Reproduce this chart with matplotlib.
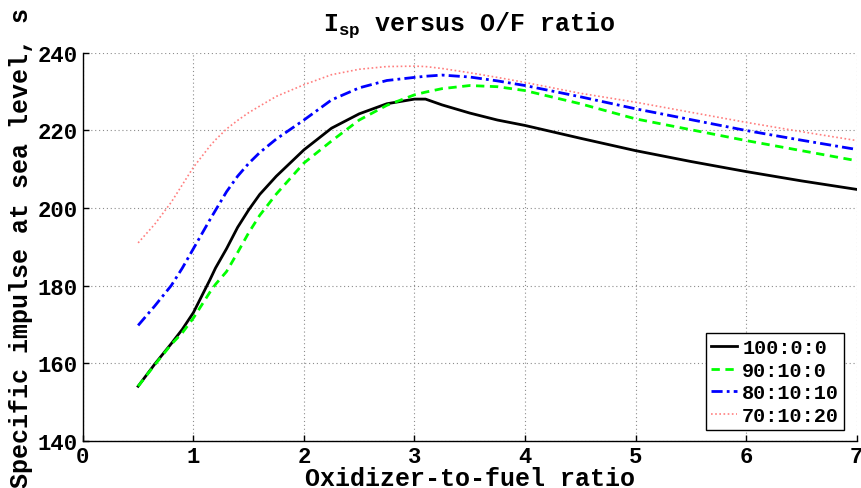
import matplotlib
matplotlib.use("Agg")
import matplotlib.pyplot as plt

# O/F ratio sample points
of_ratio = [0.5, 0.65, 0.8, 0.9, 1.0, 1.15, 1.2, 1.3, 1.4, 1.5, 1.6, 1.75, 2.0, 2.25,
            2.5, 2.75, 3.0, 3.1, 3.25, 3.5, 3.75, 4.0, 4.5, 5.0, 5.5, 6.0, 6.5, 7.0]

isp_100_0_0 = [154, 159.7, 165, 168.7, 173, 181.5, 184.5, 189.5, 195, 199.5, 203.5,
               208.2, 215, 220.6, 224.3, 226.9, 228.1, 228.1, 226.6, 224.5, 222.7,
               221.3, 218, 214.8, 212, 209.4, 207, 204.8]
isp_90_10_0 = [154, 159.5, 164.8, 167.8, 171.6, 178.3, 180.3, 183.6, 188.5, 193.6,
               198.1, 203.6, 211.6, 217.3, 222.7, 226.5, 229.2, 229.9, 230.8, 231.6,
               231.3, 230.3, 226.9, 223, 220.2, 217.4, 214.8, 212.2]
isp_80_10_10 = [169.7, 174.7, 180, 184.5, 189.5, 197, 199.4, 204.2, 208.2, 211.5,
                214.3, 217.8, 222.7, 227.9, 231, 232.9, 233.7, 234, 234.3, 233.8,
                232.8, 231.6, 228.7, 225.6, 222.8, 220, 217.5, 215.1]
isp_70_10_20 = [191, 195.8, 201.5, 206, 210.5, 216, 217.6, 220.4, 222.6, 224.6, 226.3,
                228.8, 231.8, 234.4, 235.8, 236.5, 236.6, 236.5, 236, 234.9, 233.7,
                232.4, 229.6, 227.3, 224.7, 222.1, 219.7, 217.4]

labels = ["100:0:0", "90:10:0", "80:10:10", "70:10:20"]
xticks = [0, 1, 2, 3, 4, 5, 6, 7]
yticks = [140, 160, 180, 200, 220, 240]

plt.rcParams['font.family'] = ['Liberation Mono', 'DejaVu Sans Mono']
plt.rcParams['font.weight'] = 'bold'
plt.rcParams['mathtext.fontset'] = 'custom'
plt.rcParams['mathtext.rm'] = 'Liberation Mono:bold'
plt.rcParams['mathtext.default'] = 'rm'

fig = plt.figure(figsize=(8.62, 4.89), dpi=100)
ax = fig.add_axes([0.0961, 0.0971, 0.8977, 0.7925])

ax.plot(of_ratio, isp_100_0_0, color='black', lw=2.0, label=labels[0])
ax.plot(of_ratio, isp_90_10_0, color='#00ff00', lw=2.0, ls=(0, (3, 2)), label=labels[1])
ax.plot(of_ratio, isp_80_10_10, color='#0000ff', lw=2.0, ls=(0, (4, 1.5, 1, 1.5)),
        label=labels[2])
ax.plot(of_ratio, isp_70_10_20, color='#ff7f7f', lw=1.2, ls=(0, (1, 1.5)), label=labels[3])

ax.set_xlim(0, 7)
ax.set_ylim(140, 240)
ax.set_xticks(xticks)
ax.set_yticks(yticks)
ax.grid(True, color='0.55', ls=(0, (1, 2.5)), lw=0.8)

for s in ['top', 'right']:
    ax.spines[s].set_visible(False)
for s in ['left', 'bottom']:
    ax.spines[s].set_linewidth(1.0)
ax.tick_params(direction='in', length=4, width=1, labelsize=16, pad=4)

ax.set_xlabel('Oxidizer-to-fuel ratio', fontsize=18, fontweight='bold', labelpad=-1)
ax.set_ylabel('Specific impulse at sea level, s', fontsize=18, fontweight='bold',
              labelpad=3)
ax.set_title('I$_{sp}$ versus O/F ratio', fontsize=18, fontweight='bold', pad=17)

leg = ax.legend(loc='lower right', bbox_to_anchor=(0.984, 0.027), borderaxespad=0,
                fontsize=14.5, handlelength=1.3, handletextpad=0.25, labelspacing=0.18,
                borderpad=0.25, fancybox=False, framealpha=1)
leg.get_frame().set_edgecolor('black')
leg.get_frame().set_linewidth(1.0)

fig.savefig('out.png', dpi=100)
